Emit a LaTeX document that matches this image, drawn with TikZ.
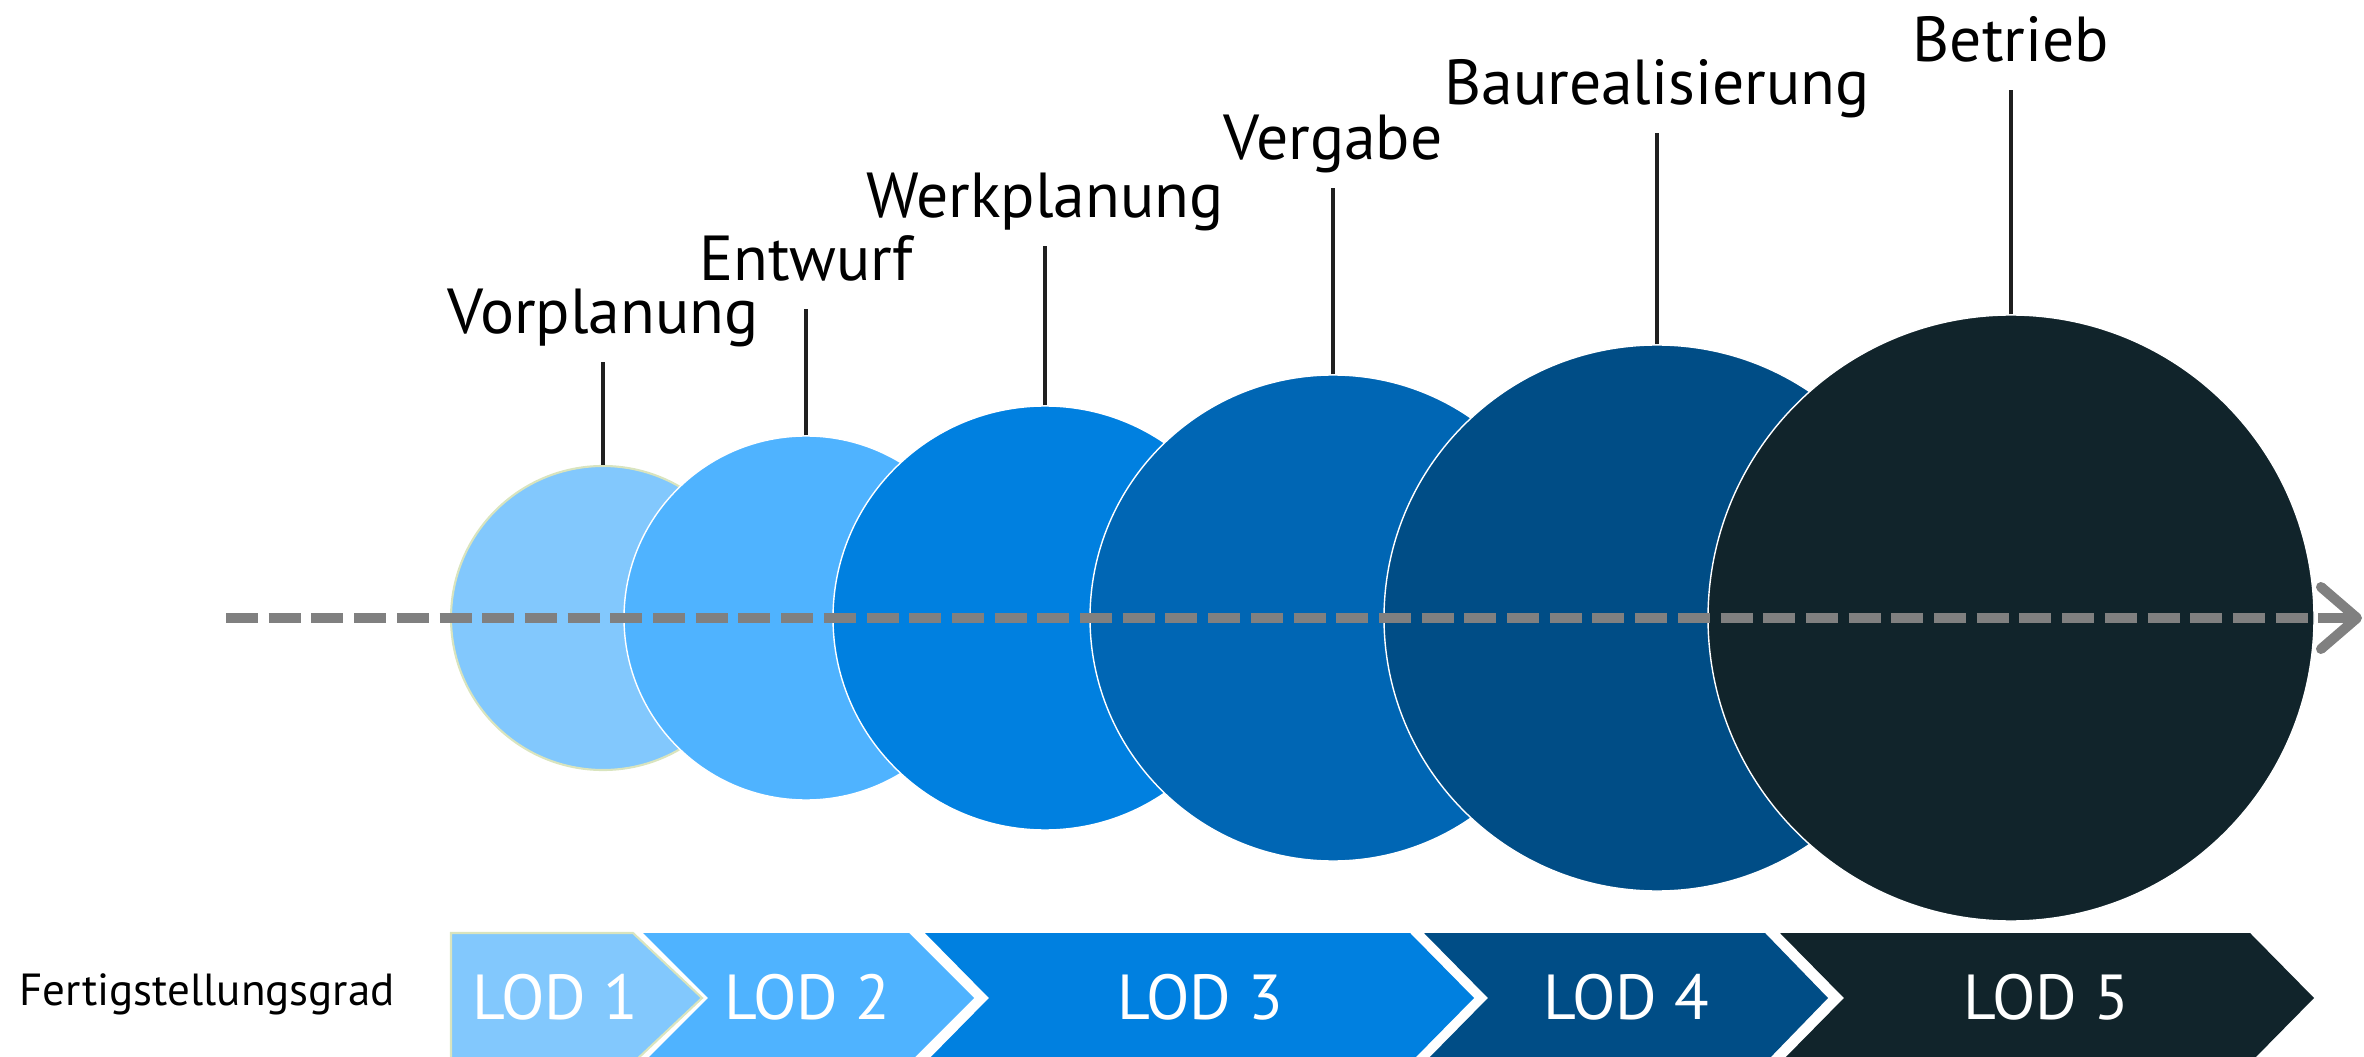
\documentclass[tikz,border=0pt]{standalone}
\usepackage{fontspec}
\setmainfont{PT Sans}
\usepackage{tikz}
\usetikzlibrary{arrows.meta, positioning}

\definecolor{lodA}{HTML}{82C8FD}
\definecolor{lodB}{HTML}{4FB3FF}
\definecolor{lodC}{HTML}{0080E0}
\definecolor{lodD}{HTML}{0066B4}
\definecolor{lodE}{HTML}{004D86}
\definecolor{lodF}{HTML}{11242B}
\definecolor{paleA}{HTML}{D9E4BE}
\definecolor{axisgray}{HTML}{808080}

\begin{document}
\begin{tikzpicture}[
    bubble/.style={circle, inner sep=0pt, draw=white, line width=0.4pt},
    phase/.style={font=\fontsize{18.1}{22}\selectfont, text=black, inner sep=0pt},
    stem/.style={draw=black!88, line width=1.1pt},
    lodtxt/.style={font=\fontsize{18.1}{22}\selectfont, text=white, inner sep=0pt},
    axis/.style={axisgray, line width=2.85pt, dash pattern=on 0.32cm off 0.107cm}
]
\useasboundingbox (0,0) rectangle (23.64,-10.57);

% Phases as growing circles
\node[bubble, fill=lodA, draw=paleA, line width=0.6pt, minimum size=3.04cm] (c1) at (6.03,-6.18) {};
\node[bubble, fill=lodB, minimum size=3.64cm] (c2) at (8.06,-6.18) {};
\node[bubble, fill=lodC, minimum size=4.24cm] (c3) at (10.45,-6.18) {};
\node[bubble, fill=lodD, minimum size=4.86cm] (c4) at (13.33,-6.18) {};
\node[bubble, fill=lodE, minimum size=5.46cm] (c5) at (16.57,-6.18) {};
\node[bubble, fill=lodF, minimum size=6.06cm] (c6) at (20.11,-6.18) {};

% Phase labels and their stems
\coordinate (t1) at (6.03,-3.62);
\coordinate (t2) at (8.06,-3.09);
\coordinate (t3) at (10.45,-2.46);
\coordinate (t4) at (13.33,-1.88);
\coordinate (t5) at (16.57,-1.33);
\coordinate (t6) at (20.11,-0.90);
\node[phase, above=0.28 of t1, anchor=base] (p1) {Vorplanung};
\node[phase, above=0.28 of t2, anchor=base] (p2) {Entwurf};
\node[phase, above=0.28 of t3, anchor=base] (p3) {Werkplanung};
\node[phase, above=0.28 of t4, anchor=base] (p4) {Vergabe};
\node[phase, above=0.28 of t5, anchor=base] (p5) {Baurealisierung};
\node[phase, above=0.28 of t6, anchor=base] (p6) {Betrieb};
\draw[stem] (c1.north) -- (t1);
\draw[stem] (c2.north) -- (t2);
\draw[stem] (c3.north) -- (t3);
\draw[stem] (c4.north) -- (t4);
\draw[stem] (c5.north) -- (t5);
\draw[stem] (c6.north) -- (t6);

% Time axis
\coordinate (axisL) at (2.26,-6.18);
\coordinate (axisR) at (23.62,-6.18);
\draw[axis, -{Straight Barb[length=0.36cm, width=0.62cm, round]}] (axisL) -- (axisR);

% Level of detail band
\node[font=\fontsize{12.8}{16}\selectfont, anchor=base west, inner sep=0pt] (fgrad) at (0.19,-10.05) {Fertigstellungsgrad};
\fill[lodA, draw=paleA, line width=0.6pt] (4.51,-9.33) -- (6.33,-9.33) -- (7.02,-9.98) -- (6.33,-10.63) -- (4.51,-10.63) -- cycle;
\fill[lodB] (6.43,-9.33) -- (9.09,-9.33) -- (9.74,-9.98) -- (9.09,-10.63) -- (6.43,-10.63) -- (7.08,-9.98) -- cycle;
\fill[lodC] (9.25,-9.33) -- (14.10,-9.33) -- (14.74,-9.98) -- (14.10,-10.63) -- (9.25,-10.63) -- (9.89,-9.98) -- cycle;
\fill[lodE] (14.24,-9.33) -- (17.65,-9.33) -- (18.28,-9.98) -- (17.65,-10.63) -- (14.24,-10.63) -- (14.88,-9.98) -- cycle;
\fill[lodF] (17.80,-9.33) -- (22.50,-9.33) -- (23.14,-9.98) -- (22.50,-10.63) -- (17.80,-10.63) -- (18.44,-9.98) -- cycle;
\node[lodtxt] (lod1) at (5.55,-9.97) {LOD 1};
\node[lodtxt] (lod2) at (8.07,-9.97) {LOD 2};
\node[lodtxt] (lod3) at (12.00,-9.97) {LOD 3};
\node[lodtxt] (lod4) at (16.26,-9.97) {LOD 4};
\node[lodtxt] (lod5) at (20.46,-9.97) {LOD 5};
\end{tikzpicture}
\end{document}
